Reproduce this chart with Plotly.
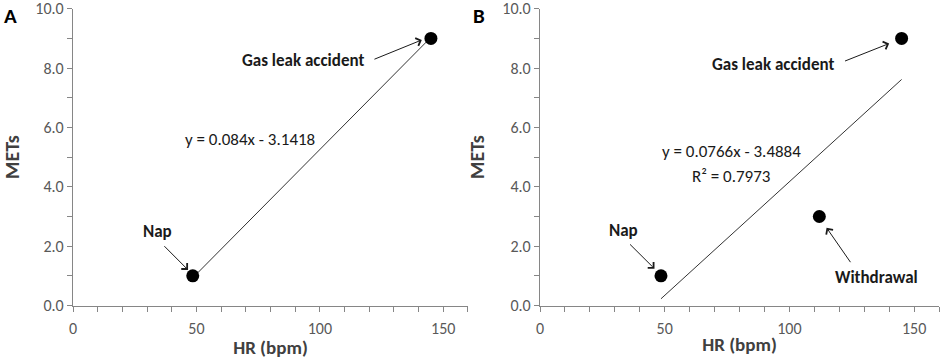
import plotly.graph_objects as go

# Data
hr_a = [48.5, 145]
mets_a = [1.0, 9.0]
labels_a = ["Nap", "Gas leak accident"]

hr_b = [48.5, 145, 112]
mets_b = [1.0, 9.0, 3.0]
labels_b = ["Nap", "Gas leak accident", "Withdrawal"]

fit_a = (0.084, -3.1418)
fit_b = (0.0766, -3.4884)
r2_b = 0.7973

x_ticks = [0, 50, 100, 150]
y_ticks = [0, 2, 4, 6, 8, 10]

FONT = "Carlito, Lato"
TICKC = "#595959"
AXC = "#868686"

fig = go.Figure()

def trend(xs, fit):
    lo, hi = min(xs), max(xs)
    return [lo, hi], [fit[0] * lo + fit[1], fit[0] * hi + fit[1]]

tx, ty = trend(hr_a, fit_a)
fig.add_trace(go.Scatter(x=tx, y=ty, mode="lines", line=dict(color="#333333", width=1),
                         xaxis="x", yaxis="y", showlegend=False))
fig.add_trace(go.Scatter(x=hr_a, y=mets_a, mode="markers", marker=dict(color="black", size=13),
                         xaxis="x", yaxis="y", showlegend=False))
tx, ty = trend(hr_b, fit_b)
fig.add_trace(go.Scatter(x=tx, y=ty, mode="lines", line=dict(color="#333333", width=1),
                         xaxis="x2", yaxis="y2", showlegend=False))
fig.add_trace(go.Scatter(x=hr_b, y=mets_b, mode="markers", marker=dict(color="black", size=13),
                         xaxis="x2", yaxis="y2", showlegend=False))

def xaxis_cfg(domain, anchor):
    return dict(domain=domain, anchor=anchor, range=[0, 160], tickvals=x_ticks, automargin=False,
                showgrid=False, zeroline=False, showline=True, linecolor=AXC, linewidth=1.3,
                ticks="outside", ticklen=5, tickcolor=AXC, ticklabelstandoff=3,
                minor=dict(dtick=10, ticks="outside", ticklen=5, tickcolor=AXC, showgrid=False),
                tickfont=dict(family=FONT, size=16, color=TICKC),
                title=dict(text="<b>HR (bpm)</b>", font=dict(family=FONT, size=19, color="#404040"), standoff=0))

def yaxis_cfg(domain, anchor):
    return dict(domain=domain, anchor=anchor, range=[0, 10], tickvals=y_ticks, tickformat=".1f",
                automargin=False,
                showgrid=False, zeroline=False, showline=True, linecolor=AXC, linewidth=1.3,
                ticks="outside", ticklen=5, tickcolor=AXC, ticklabeloverflow="allow",
                minor=dict(dtick=1, ticks="outside", ticklen=5, tickcolor=AXC, showgrid=False),
                tickfont=dict(family=FONT, size=16, color=TICKC),
                title=dict(text="<b>METs</b>", font=dict(family=FONT, size=20, color="#404040"), standoff=12))

fig.update_layout(
    width=941, height=359,
    margin=dict(l=0, r=0, t=0, b=0),
    paper_bgcolor="white", plot_bgcolor="white",
    xaxis=xaxis_cfg([0.0776, 0.4973], "y"),
    yaxis=yaxis_cfg([0.1490, 0.9755], "x"),
    xaxis2=xaxis_cfg([0.5739, 0.9979], "y2"),
    yaxis2=yaxis_cfg([0.1490, 0.9755], "x2"),
)

ann = []
def label(xr, yr, x, y, text, bold=True, size=17):
    t = f"<b>{text}</b>" if bold else text
    ann.append(dict(xref=xr, yref=yr, x=x, y=y, text=t, showarrow=False,
                    font=dict(family=FONT, size=size, color="#1a1a1a")))

def arrow(xr, yr, x0, y0, x1, y1):
    ann.append(dict(xref=xr, yref=yr, axref=xr, ayref=yr, x=x1, y=y1, ax=x0, ay=y0, text="",
                    showarrow=True, arrowhead=4, arrowsize=1.6, arrowwidth=1, arrowcolor="#1a1a1a",
                    standoff=0, startstandoff=0))

# Panel A
label("x", "y", 93, 8.25, labels_a[1])
arrow("x", "y", 121.5, 8.28, 141.3, 8.95)
label("x", "y", 34.4, 2.49, labels_a[0])
arrow("x", "y", 36.4, 2.05, 46.6, 1.2)
label("x", "y", 71.7, 5.6, f"y = {fit_a[0]}x - {abs(fit_a[1])}", bold=False)

# Panel B
label("x2", "y2", 93.3, 8.12, labels_b[1])
arrow("x2", "y2", 121.7, 8.22, 140, 8.83)
label("x2", "y2", 33.5, 2.52, labels_b[0])
arrow("x2", "y2", 35.5, 2.11, 45.9, 1.24)
label("x2", "y2", 134.8, 0.94, labels_b[2])
arrow("x2", "y2", 124.9, 1.41, 114.9, 2.62)
label("x2", "y2", 76.6, 5.2, f"y = {fit_b[0]}x - {abs(fit_b[1])}", bold=False)
label("x2", "y2", 76.6, 4.36, f"R² = {r2_b}", bold=False)

# Panel letters
ann.append(dict(xref="paper", yref="paper", x=0.002, y=0.997, xanchor="left", yanchor="top",
                text="<b>A</b>", showarrow=False, font=dict(family=FONT, size=21, color="black")))
ann.append(dict(xref="paper", yref="paper", x=0.5, y=0.997, xanchor="left", yanchor="top",
                text="<b>B</b>", showarrow=False, font=dict(family=FONT, size=21, color="black")))

fig.update_layout(annotations=ann)
fig.write_html("out.html", config={"displayModeBar": False},
               post_script="document.body.style.margin='0';document.body.style.overflow='hidden';")
